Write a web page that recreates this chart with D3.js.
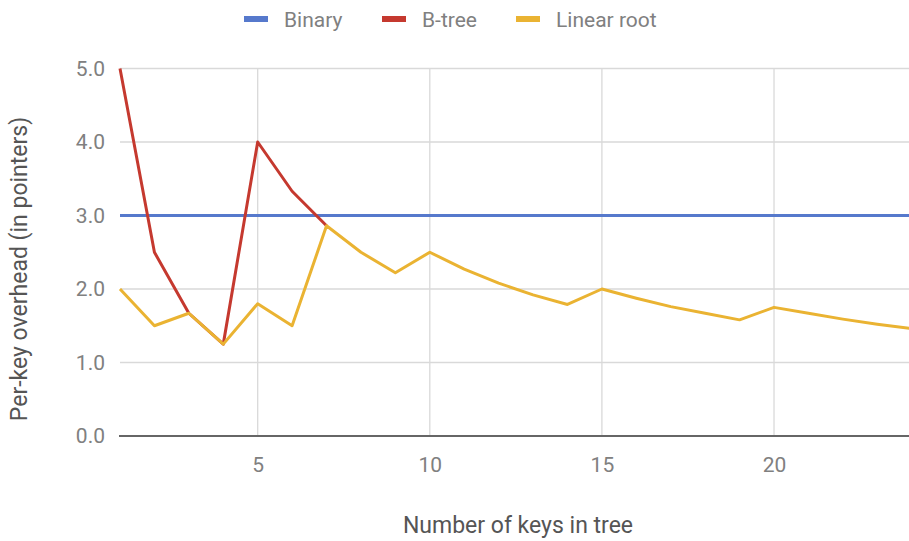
<!DOCTYPE html>
<html><head><meta charset="utf-8">
<script src="https://cdn.jsdelivr.net/npm/d3@7"></script>
<style>body{margin:0;background:#fff;}svg{display:block;font-family:Roboto,"Noto Sans",sans-serif;}</style>
</head><body>
<svg id="c" width="909" height="541"></svg>
<script>
const keys = [1,2,3,4,5,6,7,8,9,10,11,12,13,14,15,16,17,18,19,20,21,22,23,24];
const binary = [3,3,3,3,3,3,3,3,3,3,3,3,3,3,3,3,3,3,3,3,3,3,3,3];
const btreeKeys = [1,2,3,4,5,6,7];
const btree = [5.0,2.5,1.67,1.25,4.0,3.33,2.86];
const linearRoot = [2.0,1.5,1.67,1.25,1.8,1.5,2.86,2.5,2.22,2.5,2.27,2.08,1.92,1.79,2.0,1.875,1.76,1.67,1.58,1.75,1.67,1.59,1.52,1.46];
const xTicks = [5,10,15,20];
const yTicks = [0,1,2,3,4,5];
const seriesNames = ["Binary","B-tree","Linear root"];
const colors = ["#5679cc","#c5392f","#eab332"];

const svg = d3.select("#c");
const x = d3.scaleLinear().domain([1,24]).range([120,911.7]);
const y = d3.scaleLinear().domain([0,5]).range([436,68.5]);

svg.append("defs").append("clipPath").attr("id","clip")
  .append("rect").attr("x",118).attr("y",40).attr("width",800).attr("height",420);

// gridlines
const grid = svg.append("g");
grid.selectAll(".hg").data(yTicks.filter(d=>d>0)).join("line")
  .attr("x1",120).attr("x2",909).attr("y1",d=>y(d)).attr("y2",d=>y(d))
  .attr("stroke","#d9d9d9").attr("stroke-width",1.3);
grid.selectAll(".vg").data(xTicks).join("line")
  .attr("x1",d=>x(d)).attr("x2",d=>x(d)).attr("y1",y(5)).attr("y2",y(0))
  .attr("stroke","#d9d9d9").attr("stroke-width",1.3);

// y axis labels
const yAxis = d3.axisLeft(y).tickValues(yTicks).tickFormat(d3.format(".1f")).tickSize(0).tickPadding(15);
const ya = svg.append("g").attr("transform","translate(120,0)").call(yAxis);
ya.select(".domain").remove();
ya.selectAll("text").attr("fill","#808080").style("font-size","21px").style("font-family","Roboto");

// x axis labels
const xAxis = d3.axisBottom(x).tickValues(xTicks).tickSize(0).tickPadding(21);
const xa = svg.append("g").attr("transform","translate(0,436)").call(xAxis);
xa.select(".domain").remove();
xa.selectAll("text").attr("fill","#808080").style("font-size","21px").style("font-family","Roboto");

// baseline
svg.append("line").attr("x1",119).attr("x2",909).attr("y1",y(0)).attr("y2",y(0))
  .attr("stroke","#666").attr("stroke-width",2);

// lines
const g = svg.append("g").attr("clip-path","url(#clip)");
const line = d3.line().x(d=>x(d[0])).y(d=>y(d[1]));
const data = [
  keys.map((k,i)=>[k,binary[i]]),
  btreeKeys.map((k,i)=>[k,btree[i]]),
  keys.map((k,i)=>[k,linearRoot[i]])
];
data.forEach((d,i)=>{
  g.append("path").datum(d).attr("d",line).attr("fill","none")
    .attr("stroke",colors[i]).attr("stroke-width",3).attr("stroke-linejoin","round");
});

// legend
const legX = [244,382,516];
const leg = svg.append("g");
seriesNames.forEach((n,i)=>{
  leg.append("rect").attr("x",legX[i]).attr("y",16).attr("width",24).attr("height",6).attr("fill",colors[i]);
  leg.append("text").attr("x",legX[i]+40).attr("y",27).text(n)
    .attr("fill","#808080").style("font-size","21px");
});

// titles
svg.append("text").attr("x",518).attr("y",533).attr("text-anchor","middle")
  .attr("fill","#555").style("font-size","23px").text("Number of keys in tree");
svg.append("text").attr("transform","translate(27,269) rotate(-90)").attr("text-anchor","middle")
  .attr("fill","#555").style("font-size","23px").text("Per-key overhead (in pointers)");
</script>
</body></html>
